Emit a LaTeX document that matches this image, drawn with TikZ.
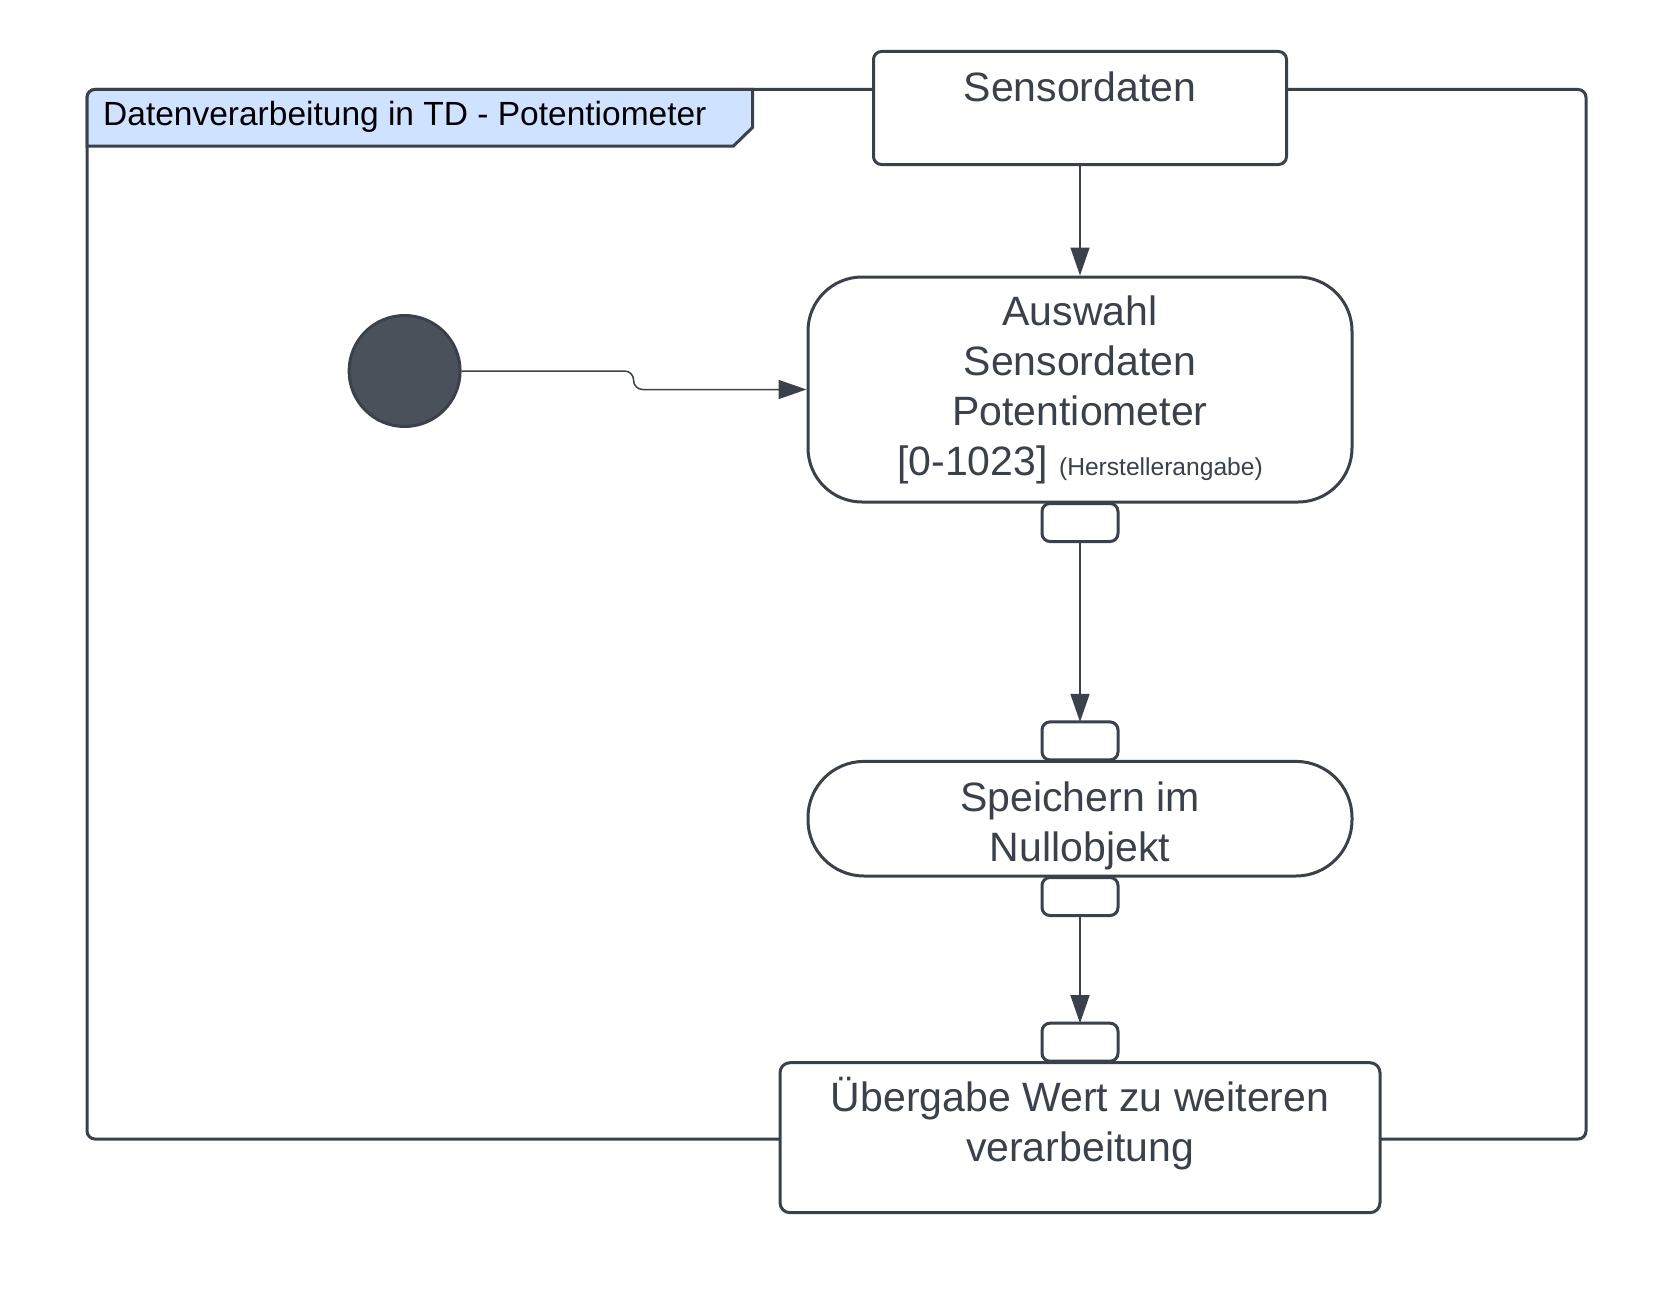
\documentclass[tikz,border=0pt]{standalone}
\usepackage{fontspec}
\setmainfont{Liberation Sans}
\usetikzlibrary{positioning,arrows.meta}

\definecolor{lineclr}{HTML}{3A414A}
\definecolor{startclr}{HTML}{4A515B}
\definecolor{tabclr}{HTML}{CFE2FF}

\tikzset{
  box/.style = {draw = lineclr, fill = white, line width = 3pt, text = lineclr, inner sep = 0pt,
                align = center, font = \fontsize{41}{50}\selectfont},
  pin/.style = {draw = lineclr, fill = white, line width = 3pt, minimum width = 76pt,
                minimum height = 38pt, rounded corners = 8pt, inner sep = 0pt, outer sep = 0pt},
  flow/.style = {draw = lineclr, line width = 1.5pt, -{Triangle[length = 28pt, width = 19pt]}}
}

\begin{document}
\begin{tikzpicture}[x = 1pt, y = -1pt]
\useasboundingbox (0,0) rectangle (1674,1290);
% frame and tab
\draw[lineclr, line width = 3pt, rounded corners = 8pt] (87,89.5) rectangle (1586,1139);
\filldraw[draw = lineclr, fill = tabclr, line width = 3pt] (87,146) [rounded corners = 8pt] -- (87,89.5) [sharp corners] -- (752.5,89.5) -- (752.5,127.5) -- (733.5,146) -- cycle;
\node[anchor = base west, inner sep = 0pt, font = \fontsize{33.5}{40}\selectfont] (title) at (103,125) {Datenverarbeitung in TD - Potentiometer};
% actions (anchored at the baseline of the last line)
\node[box, rounded corners = 8pt, minimum width = 413pt, text height = 49.5pt, text depth = 63.5pt, anchor = base] (sens) at (1080,101) {Sensordaten};
\node[box, rounded corners = 54pt, minimum width = 544pt, text height = 198pt, text depth = 27pt, anchor = base] (auswahl) at (1080,475) {Auswahl\\Sensordaten\\Potentiometer\\{}[0-1023] {\fontsize{24.6}{30}\selectfont (Herstellerangabe)}};
\node[box, rounded corners = 56pt, minimum width = 544pt, text height = 100.4pt, text depth = 14.2pt, anchor = base] (speicher) at (1080,861.8) {Speichern im\\Nullobjekt};
\node[box, rounded corners = 10pt, minimum width = 600pt, text height = 98.3pt, text depth = 51.7pt, anchor = base] (uebergabe) at (1080,1161) {Übergabe Wert zu weiteren\\verarbeitung};
% pins
\node[pin, below = 0pt of auswahl] (pinA) {};
\node[pin, above = 0pt of speicher] (pinB) {};
\node[pin, below = 0pt of speicher] (pinC) {};
\node[pin, above = 0pt of uebergabe] (pinD) {};
% start
\node[circle, draw = lineclr, fill = startclr, line width = 3pt, minimum size = 111pt, inner sep = 0pt] (start) at (404.6,371) {};
% flows
\draw[flow, rounded corners = 9pt] (start.east) -- ++(172,0) |- (auswahl.west);
\draw[flow] (sens.south) -- (auswahl.north);
\draw[flow] (pinA.south) -- (pinB.north);
\draw[flow] (pinC.south) -- (pinD.north);
\end{tikzpicture}
\end{document}
